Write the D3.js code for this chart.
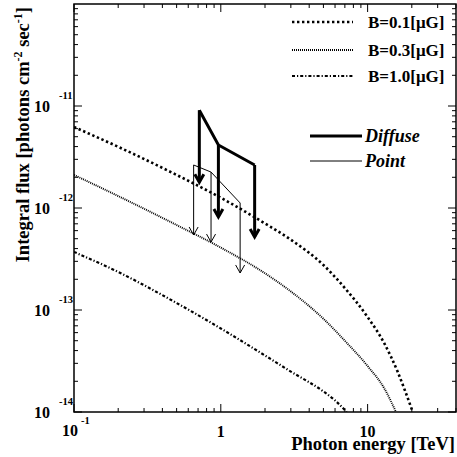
<!DOCTYPE html>
<html>
<head>
<meta charset="utf-8">
<script src="https://cdn.jsdelivr.net/npm/d3@7"></script>
<style>
  body { margin: 0; background: #fff; }
  svg { display: block; }
  text { font-family: "Liberation Serif", "Times New Roman", serif; font-weight: bold; fill: #000; }
</style>
</head>
<body>
<svg></svg>
<script>
/* curves: integral flux for three field strengths */
var energy01 = [0.1, 0.2, 0.5, 1, 2, 3, 5, 7, 10, 13, 16, 18, 20.3];
var flux01 = [6.22e-12, 3.98e-12, 2.11e-12, 1.26e-12, 7.05e-13, 4.89e-13, 2.76e-13,
  1.64e-13, 8.53e-14, 4.7e-14, 2.49e-14, 1.61e-14, 1.0e-14];

var energy03 = [0.1, 0.2, 0.5, 1, 2, 3, 5, 7, 10, 13, 15.6];
var flux03 = [2.11e-12, 1.31e-12, 6.81e-13, 4.09e-13, 2.29e-13, 1.52e-13, 8.2e-14,
  4.99e-14, 2.82e-14, 1.7e-14, 1.0e-14];

var energy10 = [0.1, 0.2, 0.5, 1, 2, 3, 5, 6, 7.2];
var flux10 = [3.71e-13, 2.36e-13, 1.17e-13, 6.59e-14, 3.58e-14, 2.49e-14, 1.59e-14,
  1.3e-14, 1.0e-14];

/* upper limits */
var diffuseEnergy = [0.714, 0.963, 1.7];
var diffuseFlux = [9.1e-12, 4.15e-12, 2.64e-12];
var pointEnergy = [0.653, 0.858, 1.354];
var pointFlux = [2.64e-12, 2.25e-12, 1.12e-12];

var seriesNames = ["B=0.1[\u03bcG]", "B=0.3[\u03bcG]", "B=1.0[\u03bcG]"];
var limitNames = ["Diffuse", "Point"];

var xTicks = [0.1, 1, 10];
var yTicks = [1e-14, 1e-13, 1e-12, 1e-11];
var yExponents = ["-14", "-13", "-12", "-11"];

var width = 457;
var height = 457;
var plotLeft = 74, plotRight = 456, plotTop = 4, plotBottom = 412;

var svg = d3.select("svg").attr("width", width).attr("height", height);

var xScale = d3.scaleLog().domain([0.1, 40]).range([plotLeft, plotRight]);
var yScale = d3.scaleLog().domain([1e-14, 1e-10]).range([plotBottom, plotTop]);

var styles = [
  { width: 2.6, dash: "2.4,2.6" },
  { width: 1.9, dash: "1,1" },
  { width: 2.2, dash: "3,2,1.2,2" }
];

svg.append("defs").append("clipPath").attr("id", "plot")
  .append("rect").attr("x", plotLeft).attr("y", plotTop)
  .attr("width", plotRight - plotLeft).attr("height", plotBottom - plotTop);

/* curves */
var line = d3.line()
  .x((d) => xScale(d[0]))
  .y((d) => yScale(d[1]))
  .curve(d3.curveMonotoneX);

var curves = [
  d3.zip(energy01, flux01),
  d3.zip(energy03, flux03),
  d3.zip(energy10, flux10)
];

svg.append("g").attr("clip-path", "url(#plot)")
  .selectAll("path")
  .data(curves)
  .enter()
  .append("path")
  .attr("d", line)
  .attr("fill", "none")
  .attr("stroke", "#000")
  .attr("stroke-width", (d, i) => styles[i].width)
  .attr("stroke-dasharray", (d, i) => styles[i].dash);

/* upper limit arrows */
var drawLimits = function (es, fs, lw, len) {
  var pts = d3.zip(es, fs);
  var g = svg.append("g")
    .attr("fill", "none")
    .attr("stroke", "#000")
    .attr("stroke-width", lw)
    .attr("stroke-linejoin", "miter");
  g.append("path").attr("d", d3.line().x((d) => xScale(d[0])).y((d) => yScale(d[1]))(pts));
  pts.forEach((p) => {
    var x = xScale(p[0]);
    var y = yScale(p[1]);
    g.append("line").attr("x1", x).attr("y1", y).attr("x2", x).attr("y2", y + len);
    g.append("path").attr("d",
      "M" + (x - 4.5) + "," + (y + len - 8) + "L" + x + "," + (y + len) + "L" + (x + 4.5) + "," + (y + len - 8));
  });
};
drawLimits(diffuseEnergy, diffuseFlux, 3, 72);
drawLimits(pointEnergy, pointFlux, 1, 70);

/* frame and ticks */
var axisG = svg.append("g").attr("stroke", "#000").attr("fill", "none");
axisG.append("rect")
  .attr("x", plotLeft).attr("y", plotTop)
  .attr("width", plotRight - plotLeft).attr("height", plotBottom - plotTop)
  .attr("stroke-width", 1.5);

var xMinor = [];
[0.1, 1, 10].forEach((d) => {
  for (var k = 1; k < 10; k++) {
    var v = d * k;
    if (v >= 0.1 && v <= 40) xMinor.push({ v: v, major: k === 1 });
  }
});
xMinor.forEach((t) => {
  var len = t.major ? 8 : 4;
  var x = xScale(t.v);
  axisG.append("line").attr("x1", x).attr("x2", x).attr("y1", plotBottom).attr("y2", plotBottom - len);
  axisG.append("line").attr("x1", x).attr("x2", x).attr("y1", plotTop).attr("y2", plotTop + len);
});

var yMinor = [];
[1e-14, 1e-13, 1e-12, 1e-11].forEach((d) => {
  for (var k = 1; k < 10; k++) yMinor.push({ v: d * k, major: k === 1 });
});
yMinor.forEach((t) => {
  var len = t.major ? 8 : 4;
  var y = yScale(t.v);
  axisG.append("line").attr("x1", plotLeft).attr("x2", plotLeft + len).attr("y1", y).attr("y2", y);
  axisG.append("line").attr("x1", plotRight).attr("x2", plotRight - len).attr("y1", y).attr("y2", y);
});

/* tick labels */
yTicks.forEach((v, i) => {
  var y = yScale(v);
  svg.append("text").attr("x", 50).attr("y", y + 5.5)
    .attr("text-anchor", "end").style("font-size", "16px").text("10");
  svg.append("text").attr("x", 59).attr("y", y - 7.5)
    .style("font-size", "10.5px").text(yExponents[i]);
});

svg.append("text").attr("x", 62).attr("y", 436).style("font-size", "16px").text("10");
svg.append("text").attr("x", 81).attr("y", 424).style("font-size", "10.5px").text("-1");
svg.append("text").attr("x", xScale(1)).attr("y", 437)
  .attr("text-anchor", "middle").style("font-size", "16px").text("1");
svg.append("text").attr("x", xScale(10)).attr("y", 437)
  .attr("text-anchor", "middle").style("font-size", "16px").text("10");

/* axis titles */
svg.append("text").attr("x", 455).attr("y", 450)
  .attr("text-anchor", "end").style("font-size", "18.5px").text("Photon energy [TeV]");

var yt = svg.append("text")
  .attr("transform", "translate(29,7) rotate(-90)")
  .attr("text-anchor", "end")
  .style("font-size", "18.5px");
yt.append("tspan").text("Integral flux [photons cm");
yt.append("tspan").attr("dy", -7).style("font-size", "12px").text("-2");
yt.append("tspan").attr("dy", 7).text(" sec");
yt.append("tspan").attr("dy", -7).style("font-size", "12px").text("-1");
yt.append("tspan").attr("dy", 7).text("]");

/* legend for curves */
var legendY = [22, 50, 76];
seriesNames.forEach((name, i) => {
  svg.append("line")
    .attr("x1", 292).attr("x2", 353).attr("y1", legendY[i]).attr("y2", legendY[i])
    .attr("stroke", "#000")
    .attr("stroke-width", styles[i].width)
    .attr("stroke-dasharray", styles[i].dash);
  svg.append("text").attr("x", 368).attr("y", legendY[i] + 5.5)
    .style("font-size", "17px").text(name);
});

/* legend for limits */
var limitY = [136, 161];
var limitW = [3, 1];
limitNames.forEach((name, i) => {
  svg.append("line")
    .attr("x1", 310).attr("x2", 362).attr("y1", limitY[i]).attr("y2", limitY[i])
    .attr("stroke", "#000").attr("stroke-width", limitW[i]);
  svg.append("text").attr("x", 365).attr("y", limitY[i] + 6)
    .style("font-size", "18px").style("font-style", "italic").text(name);
});
</script>
</body>
</html>
